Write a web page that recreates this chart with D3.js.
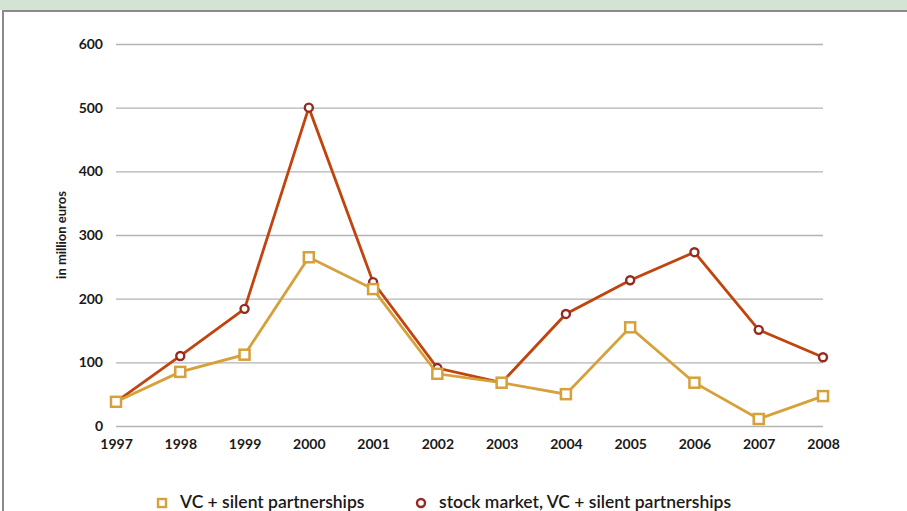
<!DOCTYPE html>
<html>
<head>
<meta charset="utf-8">
<script src="https://cdn.jsdelivr.net/npm/d3@7"></script>
<style>
  body { margin: 0; background: #fff; }
  svg { display: block; font-family: Lato, "Open Sans", sans-serif; }
</style>
</head>
<body>
<svg width="907" height="511"></svg>
<script>
const years = [1997, 1998, 1999, 2000, 2001, 2002, 2003, 2004, 2005, 2006, 2007, 2008];
const vcSilent = [38, 85, 112, 265, 215, 82, 68, 50, 155, 68, 11, 47];
const stockVcSilent = [38, 110, 184, 500, 226, 91, 68, 176, 229, 273, 151, 108];
const yTicks = [0, 100, 200, 300, 400, 500, 600];
const seriesNames = ["VC + silent partnerships", "stock market, VC + silent partnerships"];

const svg = d3.select("svg");

// frame
svg.append("rect").attr("x", 0).attr("y", 0).attr("width", 907).attr("height", 10).attr("fill", "#d3e4d5");
svg.append("line").attr("x1", 2).attr("x2", 907).attr("y1", 11).attr("y2", 11)
  .attr("stroke", "#8a8a8a").attr("stroke-width", 2);
svg.append("line").attr("x1", 3).attr("x2", 3).attr("y1", 10).attr("y2", 511)
  .attr("stroke", "#8a8a8a").attr("stroke-width", 2);

const x = d3.scalePoint().domain(years).range([116, 823]);
const y = d3.scaleLinear().domain([0, 600]).range([426, 44]);

// gridlines + y labels
const yAxis = d3.axisLeft(y).tickValues(yTicks).tickSize(-(823 - 116)).tickPadding(13);
const gy = svg.append("g").attr("transform", "translate(116,0)").call(yAxis);
gy.select(".domain").remove();
gy.selectAll(".tick line").attr("stroke", "#b3b3b3").attr("stroke-width", 1.3);
gy.selectAll(".tick text").attr("fill", "#1a1a1a").attr("font-size", 14).attr("font-weight", 700)
  .attr("font-family", "Lato, sans-serif");

// x labels
const xAxis = d3.axisBottom(x).tickSize(0).tickPadding(13);
const gx = svg.append("g").attr("transform", "translate(0,426)").call(xAxis);
gx.select(".domain").remove();
gx.selectAll(".tick text").attr("fill", "#1a1a1a").attr("font-size", 14).attr("font-weight", 700)
  .attr("font-family", "Lato, sans-serif");

// y title
svg.append("text")
  .attr("transform", "translate(66,235) rotate(-90)")
  .attr("text-anchor", "middle")
  .attr("font-size", 13).attr("font-weight", 700).attr("fill", "#1a1a1a")
  .text("in million euros");

const line = d3.line().x((d, i) => x(years[i])).y(d => y(d));

// stock market series
svg.append("path").datum(stockVcSilent).attr("d", line)
  .attr("fill", "none").attr("stroke", "#c1440e").attr("stroke-width", 2.8);
svg.append("g").selectAll("circle").data(stockVcSilent).join("circle")
  .attr("cx", (d, i) => x(years[i])).attr("cy", d => y(d)).attr("r", 4)
  .attr("fill", "#fff").attr("stroke", "#962a1e").attr("stroke-width", 2.4);

// VC series
svg.append("path").datum(vcSilent).attr("d", line)
  .attr("fill", "none").attr("stroke", "#d6a03a").attr("stroke-width", 2.8);
svg.append("g").selectAll("rect").data(vcSilent).join("rect")
  .attr("x", (d, i) => x(years[i]) - 5).attr("y", d => y(d) - 5)
  .attr("width", 10).attr("height", 10)
  .attr("fill", "#fff").attr("stroke", "#d6a03a").attr("stroke-width", 2.5);

// legend
const leg = svg.append("g").attr("font-size", 17.5).attr("fill", "#1a1a1a").attr("font-weight", 600);
leg.append("rect").attr("x", 158).attr("y", 499).attr("width", 8).attr("height", 8)
  .attr("fill", "#fff").attr("stroke", "#d6a03a").attr("stroke-width", 2.4);
leg.append("text").attr("x", 180).attr("y", 508).text(seriesNames[0]);
leg.append("circle").attr("cx", 421).attr("cy", 503).attr("r", 4)
  .attr("fill", "#fff").attr("stroke", "#962a1e").attr("stroke-width", 2.4);
leg.append("text").attr("x", 439).attr("y", 508).text(seriesNames[1]);
</script>
</body>
</html>
